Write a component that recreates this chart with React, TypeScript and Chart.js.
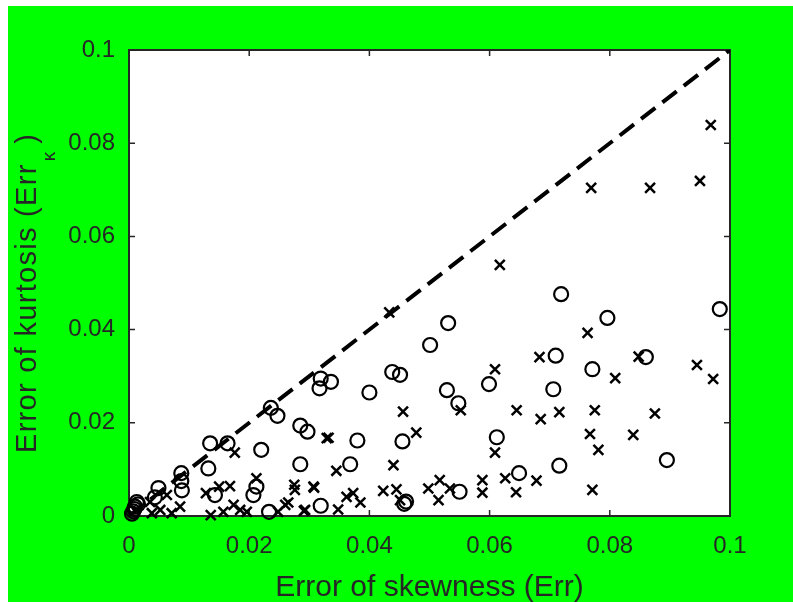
import { useEffect, useRef } from "react";
import { Chart, registerables, type Plugin } from "chart.js";

Chart.register(...registerables);

// tick positions and labels (same on both axes)
const tickValues = [0, 0.02, 0.04, 0.06, 0.08, 0.1];
const tickLabels = ["0", "0.02", "0.04", "0.06", "0.08", "0.1"];

// circle markers
const circleX = [
	0.0983, 0.0719, 0.0796, 0.0531, 0.0501, 0.0438, 0.0451, 0.071, 0.0771, 0.086,
	0.0706, 0.0599, 0.04, 0.0529, 0.0548, 0.0319, 0.0336, 0.0317, 0.0285, 0.0297,
	0.0236, 0.0247, 0.038, 0.0455, 0.0612, 0.0368, 0.0285, 0.0135, 0.0164, 0.022,
	0.0132, 0.0716, 0.0895, 0.0649, 0.055, 0.0461, 0.0458, 0.0319, 0.0233, 0.0212,
	0.0207, 0.0143, 0.0087, 0.0087, 0.0088, 0.0049, 0.0043, 0.0013, 0.001, 0.0007,
	0.0015, 0.0005, 0.0009,
];
const circleY = [
	0.0444, 0.0476, 0.0425, 0.0414, 0.0367, 0.0309, 0.0303, 0.0344, 0.0315, 0.0341,
	0.0272, 0.0283, 0.0265, 0.027, 0.0242, 0.0295, 0.0288, 0.0274, 0.0194, 0.0181,
	0.0232, 0.0215, 0.0162, 0.016, 0.0169, 0.0111, 0.0111, 0.0156, 0.0156, 0.0142,
	0.0102, 0.0108, 0.012, 0.0092, 0.0052, 0.0031, 0.0026, 0.0022, 0.0009, 0.0063,
	0.0045, 0.0045, 0.0092, 0.0075, 0.0055, 0.006, 0.004, 0.003, 0.002, 0.001,
	0.0025, 0.0005, 0.0015,
];

// cross markers
const crossX = [
	0.0968, 0.0769, 0.0867, 0.095, 0.0617, 0.0433, 0.0763, 0.0683, 0.0848, 0.0945,
	0.0972, 0.0809, 0.0609, 0.0645, 0.0685, 0.0716, 0.0775, 0.0875, 0.0767, 0.0839,
	0.0781, 0.0626, 0.0644, 0.0678, 0.0771, 0.0456, 0.0552, 0.0478, 0.0332, 0.0609,
	0.044, 0.0345, 0.0308, 0.0291, 0.0348, 0.0362, 0.0373, 0.0385, 0.0423, 0.0445,
	0.0451, 0.0498, 0.0517, 0.0515, 0.0534, 0.0588, 0.0588, 0.0176, 0.0212, 0.0128,
	0.015, 0.0168, 0.0136, 0.0157, 0.0174, 0.0185, 0.0196, 0.0248, 0.026, 0.0265,
	0.0275, 0.0276, 0.0307, 0.0293, 0.0329, 0.0063, 0.0071, 0.0052, 0.0038, 0.0085,
	0.0035,
];
const crossY = [
	0.0839, 0.0704, 0.0704, 0.0719, 0.0539, 0.0437, 0.0393, 0.0341, 0.0342, 0.0324,
	0.0294, 0.0296, 0.0315, 0.0227, 0.0208, 0.0223, 0.0227, 0.022, 0.0176, 0.0174,
	0.0142, 0.0081, 0.0051, 0.0076, 0.0056, 0.0224, 0.0227, 0.0179, 0.0168, 0.0136,
	0.0109, 0.0097, 0.0061, 0.0011, 0.0014, 0.0041, 0.0049, 0.0029, 0.0054, 0.0057,
	0.0034, 0.0059, 0.0077, 0.0034, 0.0059, 0.0077, 0.005, 0.0136, 0.0081, 0.0049,
	0.0063, 0.0064, 0.0002, 0.0009, 0.0024, 0.0013, 0.0009, 0.0009, 0.0024, 0.0029,
	0.0067, 0.0056, 0.0063, 0.0013, 0.0167, 0.0045, 0.0006, 0.0013, 0.0006, 0.002,
	0.003,
];

// y = x reference line
const diagX = [0, 0.1];
const diagY = [0, 0.1];

const xTitle = "Error of skewness (Err)";
const yTitle = "Error of kurtosis (Err";
const ySub = "κ";
const yTail = " )";

const FONT = "'Liberation Sans', Arial, sans-serif";
const INK = "#262626";

const toPoints = (xs: number[], ys: number[]) => xs.map((x, i) => ({ x, y: ys[i] }));

const framePlugin: Plugin<"scatter"> = {
	id: "matlabFrame",
	beforeDraw(chart) {
		const { ctx, chartArea: a } = chart;
		ctx.save();
		ctx.fillStyle = "#ffffff";
		ctx.fillRect(a.left, a.top, a.right - a.left, a.bottom - a.top);
		ctx.restore();
	},
	beforeDatasetsDraw(chart) {
		const { ctx, chartArea: a, scales } = chart;
		ctx.save();
		ctx.strokeStyle = INK;
		ctx.lineWidth = 2;
		ctx.strokeRect(a.left, a.top, a.right - a.left, a.bottom - a.top);
		ctx.lineWidth = 1.5;
		ctx.beginPath();
		const len = 6;
		tickValues.forEach((v) => {
			const px = scales.x.getPixelForValue(v);
			const py = scales.y.getPixelForValue(v);
			ctx.moveTo(px, a.bottom);
			ctx.lineTo(px, a.bottom - len);
			ctx.moveTo(px, a.top);
			ctx.lineTo(px, a.top + len);
			ctx.moveTo(a.left, py);
			ctx.lineTo(a.left + len, py);
			ctx.moveTo(a.right, py);
			ctx.lineTo(a.right - len, py);
		});
		ctx.stroke();
		ctx.restore();
	},
	afterDraw(chart) {
		const { ctx, chartArea: a } = chart;
		ctx.save();
		ctx.fillStyle = INK;
		ctx.textBaseline = "alphabetic";

		// x title
		ctx.font = `30px ${FONT}`;
		ctx.textAlign = "center";
		ctx.fillText(xTitle, (a.left + a.right) / 2, 590);

		// y title, rotated, with subscript
		ctx.translate(28, 447);
		ctx.rotate(-Math.PI / 2);
		ctx.textAlign = "left";
		ctx.font = `29px ${FONT}`;
		(ctx as any).letterSpacing = "1.3px";
		ctx.fillText(yTitle, 0, 0);
		const w = ctx.measureText(yTitle).width;
		ctx.font = `19px ${FONT}`;
		(ctx as any).letterSpacing = "0px";
		ctx.fillText(ySub, w + 2, 19);
		const sw = ctx.measureText(ySub).width;
		ctx.font = `29px ${FONT}`;
		ctx.fillText(yTail, w + sw + 2, 0);
		ctx.restore();
	},
};

const tickOpts = {
	color: INK,
	font: { family: FONT, size: 24 },
	callback: (_v: any, i: number) => tickLabels[i],
};

const App = () => {
	const canvasRef = useRef<HTMLCanvasElement | null>(null);
	const chartRef = useRef<Chart<"scatter"> | null>(null);

	useEffect(() => {
		if (!canvasRef.current) return;
		if (chartRef.current) chartRef.current.destroy();

		chartRef.current = new Chart(canvasRef.current, {
			type: "scatter",
			data: {
				datasets: [
					{
						type: "line",
						data: toPoints(diagX, diagY),
						borderColor: "#000000",
						borderWidth: 4,
						borderDash: [18, 9],
						pointRadius: 0,
						fill: false,
					} as any,
					{
						data: toPoints(circleX, circleY),
						pointStyle: "circle",
						pointRadius: 7,
						borderWidth: 2.2,
						borderColor: "#000000",
						backgroundColor: "rgba(0,0,0,0)",
						clip: false,
					},
					{
						data: toPoints(crossX, crossY),
						pointStyle: "crossRot",
						pointRadius: 7,
						borderWidth: 2.5,
						borderColor: "#000000",
						backgroundColor: "#000000",
						clip: false,
					},
				],
			},
			options: {
				animation: false,
				responsive: false,
				devicePixelRatio: 1,
				events: [],
				layout: { padding: { top: 44, right: 63, left: 0, bottom: 0 } },
				plugins: { legend: { display: false }, tooltip: { enabled: false } },
				scales: {
					x: {
						type: "linear",
						min: 0,
						max: 0.1,
						grid: { display: false, drawTicks: false },
						border: { display: false },
						afterBuildTicks: (s: any) => {
							s.ticks = tickValues.map((value) => ({ value }));
						},
						afterFit: (s: any) => {
							s.height = 86;
						},
						ticks: { ...tickOpts, padding: 16, maxRotation: 0 },
					},
					y: {
						type: "linear",
						min: 0,
						max: 0.1,
						grid: { display: false, drawTicks: false },
						border: { display: false },
						afterBuildTicks: (s: any) => {
							s.ticks = tickValues.map((value) => ({ value }));
						},
						afterFit: (s: any) => {
							s.width = 121;
						},
						ticks: { ...tickOpts, padding: 14 },
					},
				},
			},
			plugins: [framePlugin],
		});

		return () => {
			if (chartRef.current) {
				chartRef.current.destroy();
				chartRef.current = null;
			}
		};
	}, []);

	return (
		<div
			style={{
				position: "absolute",
				left: 8,
				top: 6,
				width: 785,
				height: 596,
				background: "#00ff00",
			}}
		>
			<canvas ref={canvasRef} width={785} height={596} style={{ display: "block" }} />
		</div>
	);
};

export default App;
